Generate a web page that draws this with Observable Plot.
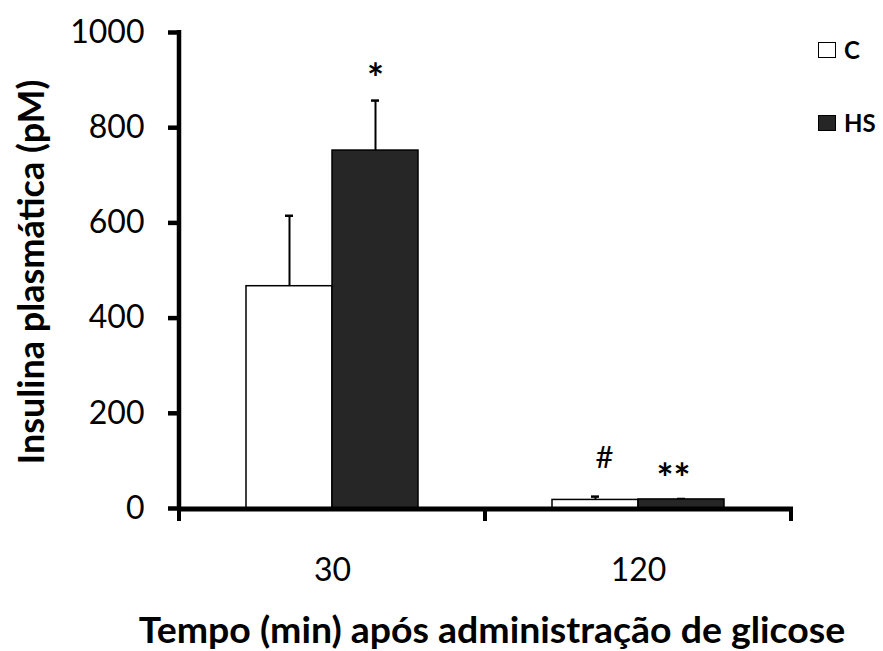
<!DOCTYPE html>
<html><head><meta charset="utf-8">
<script src="https://cdn.jsdelivr.net/npm/d3@7"></script>
<script src="https://cdn.jsdelivr.net/npm/@observablehq/plot@0.6"></script>
<style>
body{margin:0;background:#fff;}
#wrap{position:relative;width:883px;height:651px;font-family:Lato,sans-serif;color:#000;overflow:hidden;}
.legend{position:absolute;left:818px;display:flex;align-items:center;font-weight:bold;font-size:24px;line-height:1;}
.sw{width:16px;height:14px;border:1.5px solid #000;margin-right:8px;}
.ytitle{position:absolute;left:30px;top:272px;transform:translate(-50%,-50%) rotate(-90deg);white-space:nowrap;font-weight:bold;font-size:36px;line-height:1;}
.xtitle{position:absolute;left:492px;top:611px;transform:translateX(-50%) scaleX(1.04);white-space:nowrap;font-weight:bold;font-size:36px;line-height:1;}
</style></head>
<body><div id="wrap"></div>
<script>
// Data
const times = ["30", "120"];
const groups = ["C", "HS"];
const meanC = [467, 18];
const semC = [148, 7];
const meanHS = [752, 19];
const semHS = [105, 1];
const yTicks = [0, 200, 400, 600, 800, 1000];
const noteTimes = ["30", "120", "120"];
const noteGroups = ["HS", "C", "HS"];
const noteLabels = ["*", "#", "**"];
const colors = {C: "#ffffff", HS: "#262626"};

const rows = [];
times.forEach((t, i) => {
  rows.push({time: t, group: "C", mean: meanC[i], sem: semC[i]});
  rows.push({time: t, group: "HS", mean: meanHS[i], sem: semHS[i]});
});
const notes = noteLabels.map((l, i) => {
  const r = rows.find(d => d.time === noteTimes[i] && d.group === noteGroups[i]);
  return {time: noteTimes[i], group: noteGroups[i], label: l, top: r.mean + r.sem};
});

const plot = Plot.plot({
  width: 883, height: 651,
  marginLeft: 178, marginRight: 92, marginTop: 32, marginBottom: 143,
  style: {fontFamily: "Lato, sans-serif", fontSize: "32px", color: "#000", background: "#fff", overflow: "visible"},
  fx: {domain: times, padding: 0, label: null},
  x: {domain: groups, paddingInner: 0, paddingOuter: 0.76, axis: null},
  y: {domain: [0, 1000]},
  marks: [
    Plot.ruleX(rows, {fx: "time", x: "group", y1: "mean", y2: d => d.mean + d.sem, stroke: "#000", strokeWidth: 2}),
    Plot.tickY(rows, {fx: "time", x: "group", y: d => d.mean + d.sem, insetLeft: 39, insetRight: 39, stroke: "#000", strokeWidth: 2.5}),
    Plot.barY(rows, {fx: "time", x: "group", y: "mean", fill: d => colors[d.group], stroke: "#000", strokeWidth: 1.5}),
    Plot.text(notes.filter(d => d.label === "*"), {fx: "time", x: "group", y: "top", text: "label", dy: -20, fontSize: 40, fontWeight: "bold"}),
    Plot.text(notes.filter(d => d.label === "**"), {fx: "time", x: "group", y: "top", text: "label", dy: -19, dx: -8, fontSize: 40, fontWeight: "bold"}),
    Plot.text(notes.filter(d => d.label === "#"), {fx: "time", x: "group", y: "top", text: "label", dy: -39, dx: 9, fontSize: 31}),
    Plot.axisY({ticks: yTicks, tickFormat: d3.format("d"), tickSize: 11, tickPadding: 24, strokeWidth: 4.5, label: null, fontSize: 32}),
    Plot.axisFx({anchor: "bottom", tickSize: 0, tickPadding: 50, label: null, fontSize: 32})
  ]
});

const svg = d3.select(plot);
const y = plot.scale("y");
const fx = plot.scale("fx");
const y0 = y.apply(0), y1 = y.apply(1000);
const left = fx.apply(times[0]);
const right = fx.apply(times[times.length - 1]) + fx.bandwidth;
const g = svg.append("g").attr("stroke", "#000");
g.append("line").attr("x1", left).attr("x2", left).attr("y1", y1 - 2).attr("y2", y0 + 2).attr("stroke-width", 4.5);
g.append("line").attr("x1", left - 2).attr("x2", right + 2).attr("y1", y0 + 1).attr("y2", y0 + 1).attr("stroke-width", 5);
const bounds = times.map(t => fx.apply(t)).concat([right]);
g.selectAll("line.b").data(bounds).join("line").attr("class", "b")
  .attr("x1", d => d).attr("x2", d => d).attr("y1", y0).attr("y2", y0 + 13).attr("stroke-width", 4);

const wrap = document.getElementById("wrap");
wrap.appendChild(plot);
plot.style.position = "absolute"; plot.style.left = "0"; plot.style.top = "0";

const legY = {C: 50, HS: 123};
groups.forEach(gr => {
  const d = document.createElement("div");
  d.className = "legend";
  d.style.top = (legY[gr] - 12) + "px";
  d.style.height = "24px";
  d.innerHTML = `<span class="sw" style="background:${colors[gr]}"></span><span>${gr}</span>`;
  wrap.appendChild(d);
});
const yt = document.createElement("div"); yt.className = "ytitle"; yt.textContent = "Insulina plasmática (pM)"; wrap.appendChild(yt);
const xt = document.createElement("div"); xt.className = "xtitle"; xt.textContent = "Tempo (min) após administração de glicose"; wrap.appendChild(xt);
</script>
</body></html>
